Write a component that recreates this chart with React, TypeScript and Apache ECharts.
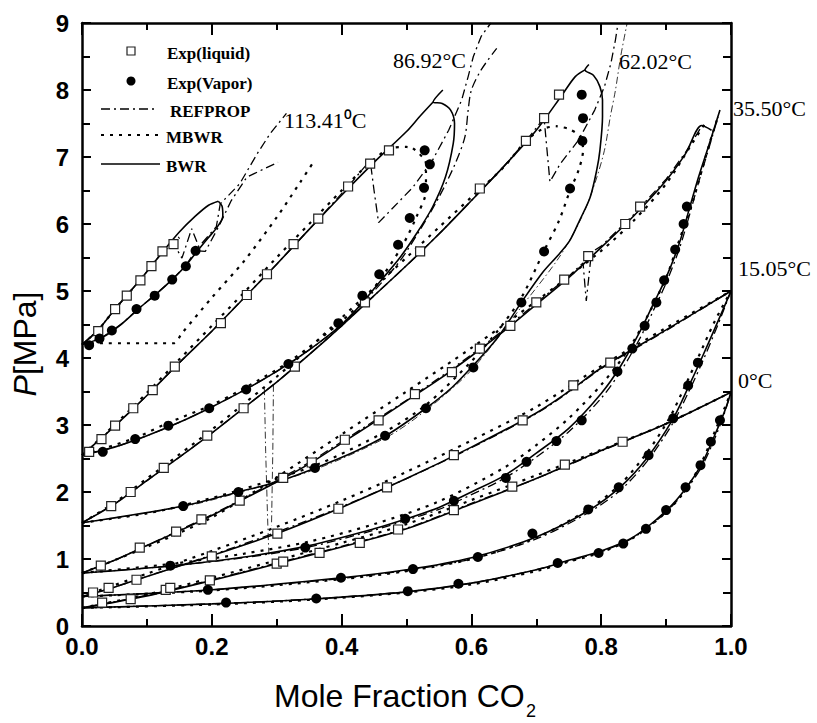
import React, { useEffect, useRef } from "react";
import * as echarts from "echarts";

type P = [number, number];

// ---------- legend / labels ----------
const legendLabels = ["Exp(liquid)", "Exp(Vapor)", "REFPROP", "MBWR", "BWR"];
const tempLabels = ["113.41\u2070C", "86.92\u00b0C", "62.02\u00b0C", "35.50\u00b0C", "15.05\u00b0C", "0\u00b0C"];

// ---------- experimental data ----------
const T0_liq: P[] = [[0.031,0.35],[0.075,0.40],[0.129,0.54],[0.136,0.57],[0.197,0.68],[0.300,0.93],[0.310,0.96],[0.366,1.09],[0.428,1.24],[0.487,1.44],[0.573,1.73],[0.663,2.08],[0.744,2.41],[0.833,2.75]];
const T0_vap: P[] = [[0.222,0.35],[0.361,0.41],[0.502,0.52],[0.58,0.63],[0.733,0.94],[0.796,1.09],[0.834,1.23],[0.869,1.45],[0.9,1.73],[0.93,2.07],[0.953,2.40],[0.969,2.75],[0.983,3.07]];
const T15_liq: P[] = [[0.017,0.50],[0.041,0.57],[0.084,0.69],[0.2,1.04],[0.301,1.38],[0.395,1.75],[0.47,2.07],[0.573,2.55],[0.679,3.07],[0.757,3.59],[0.814,3.93]];
const T15_vap: P[] = [[0.194,0.54],[0.399,0.72],[0.51,0.85],[0.61,1.03],[0.694,1.38],[0.78,1.74],[0.827,2.07],[0.873,2.55],[0.911,3.1],[0.934,3.59],[0.949,3.93]];
const T35_liq: P[] = [[0.029,0.90],[0.089,1.17],[0.145,1.41],[0.184,1.59],[0.243,1.87],[0.31,2.21],[0.354,2.44],[0.405,2.78],[0.457,3.07],[0.513,3.46],[0.57,3.79],[0.613,4.14],[0.66,4.48],[0.70,4.83],[0.743,5.17],[0.78,5.52],[0.837,6.0],[0.86,6.26]];
const T35_vap: P[] = [[0.136,0.90],[0.344,1.17],[0.498,1.60],[0.573,1.87],[0.653,2.21],[0.685,2.45],[0.731,2.76],[0.77,3.07],[0.825,3.80],[0.848,4.14],[0.867,4.48],[0.885,4.83],[0.897,5.16],[0.914,5.62],[0.927,6.0],[0.932,6.26]];
const T62_liq: P[] = [[0.045,1.79],[0.075,2.0],[0.126,2.36],[0.193,2.84],[0.249,3.25],[0.328,3.87],[0.436,4.83],[0.521,5.59],[0.613,6.53],[0.684,7.24],[0.712,7.58],[0.735,7.93]];
const T62_vap: P[] = [[0.156,1.79],[0.241,2.0],[0.359,2.36],[0.467,2.84],[0.53,3.25],[0.603,3.86],[0.677,4.83],[0.712,5.59],[0.752,6.53],[0.771,7.24],[0.772,7.58],[0.77,7.93]];
const T87_liq: P[] = [[0.011,2.60],[0.03,2.79],[0.051,2.99],[0.079,3.25],[0.109,3.52],[0.143,3.87],[0.214,4.52],[0.254,4.94],[0.285,5.25],[0.326,5.70],[0.364,6.08],[0.41,6.56],[0.444,6.9],[0.473,7.10]];
const T87_vap: P[] = [[0.032,2.60],[0.082,2.79],[0.133,2.99],[0.196,3.25],[0.253,3.53],[0.318,3.91],[0.395,4.52],[0.432,4.93],[0.458,5.25],[0.487,5.69],[0.505,6.09],[0.527,6.54],[0.536,6.89],[0.528,7.10]];
const T113_liq: P[] = [[0.025,4.40],[0.051,4.73],[0.069,4.93],[0.090,5.16],[0.107,5.37],[0.124,5.59],[0.141,5.70]];
const T113_vap: P[] = [[0.011,4.19],[0.027,4.29],[0.046,4.41],[0.084,4.73],[0.112,4.93],[0.139,5.17],[0.16,5.37],[0.175,5.60]];

// ---------- BWR (solid) ----------
const BWR_0_bub: P[] = [[0,0.27],[0.1,0.45],[0.2,0.68],[0.3,0.93],[0.4,1.18],[0.5,1.45],[0.6,1.82],[0.7,2.2],[0.8,2.62],[0.9,3.02],[1.0,3.49]];
const BWR_0_dew: P[] = [[0,0.27],[0.2,0.33],[0.35,0.40],[0.5,0.51],[0.6,0.64],[0.7,0.84],[0.75,0.98],[0.8,1.12],[0.85,1.33],[0.9,1.72],[0.93,2.05],[0.955,2.42],[0.975,2.85],[0.99,3.2],[1.0,3.49]];
const BWR_15_bub: P[] = [[0,0.44],[0.05,0.58],[0.1,0.74],[0.2,1.05],[0.3,1.38],[0.4,1.77],[0.5,2.2],[0.6,2.67],[0.7,3.18],[0.75,3.5],[0.8,3.85],[0.9,4.42],[1.0,5.0]];
const BWR_15_dew: P[] = [[0,0.44],[0.2,0.54],[0.4,0.72],[0.5,0.84],[0.6,1.02],[0.7,1.33],[0.78,1.72],[0.83,2.08],[0.87,2.5],[0.91,3.08],[0.935,3.58],[0.955,4.0],[0.98,4.55],[1.0,5.0]];
const BWR_35_bub: P[] = [[0,0.79],[0.05,0.98],[0.1,1.2],[0.15,1.42],[0.2,1.65],[0.25,1.9],[0.3,2.15],[0.35,2.42],[0.4,2.73],[0.45,3.04],[0.5,3.36],[0.55,3.68],[0.6,4.03],[0.65,4.4],[0.7,4.8],[0.75,5.2],[0.8,5.65],[0.85,6.12],[0.9,6.65],[0.93,7.05],[0.955,7.47],[0.97,7.4]];
const BWR_35_dew: P[] = [[0,0.79],[0.14,0.90],[0.25,1.03],[0.35,1.2],[0.45,1.45],[0.5,1.6],[0.55,1.77],[0.6,2.0],[0.65,2.24],[0.7,2.58],[0.75,2.95],[0.8,3.47],[0.83,3.88],[0.86,4.4],[0.88,4.8],[0.9,5.2],[0.92,5.7],[0.935,6.2],[0.95,6.7],[0.965,7.15],[0.983,7.7]];
const BWR_62_bub: P[] = [[0,1.54],[0.05,1.82],[0.1,2.17],[0.15,2.52],[0.2,2.88],[0.25,3.26],[0.3,3.64],[0.35,4.05],[0.4,4.48],[0.45,4.93],[0.5,5.38],[0.55,5.85],[0.6,6.35],[0.65,6.86],[0.7,7.4],[0.74,7.93],[0.76,8.2],[0.775,8.3]];
const BWR_62_dew: P[] = [[0,1.54],[0.156,1.79],[0.241,2.0],[0.3,2.15],[0.36,2.36],[0.42,2.6],[0.47,2.85],[0.53,3.25],[0.57,3.56],[0.6,3.86],[0.64,4.3],[0.677,4.83],[0.71,5.28],[0.735,5.55],[0.752,5.76],[0.767,6.06],[0.783,6.4],[0.793,6.8],[0.798,7.1],[0.802,7.6],[0.802,7.85],[0.798,8.05],[0.788,8.22],[0.775,8.3],[0.781,8.38]];
const BWR_87_bub: P[] = [[0,2.55],[0.05,2.98],[0.1,3.44],[0.15,3.93],[0.2,4.4],[0.25,4.9],[0.3,5.4],[0.35,5.92],[0.4,6.43],[0.45,6.92],[0.5,7.38],[0.52,7.6],[0.541,7.82]];
const BWR_87_dew: P[] = [[0,2.55],[0.05,2.67],[0.1,2.84],[0.15,3.04],[0.2,3.27],[0.25,3.52],[0.3,3.8],[0.35,4.12],[0.4,4.5],[0.43,4.8],[0.46,5.15],[0.49,5.5],[0.515,5.85],[0.54,6.25],[0.56,6.7],[0.572,7.2],[0.574,7.5],[0.568,7.7],[0.555,7.8],[0.541,7.82],[0.556,8.0]];
const BWR_113_bub: P[] = [[0,4.2],[0.025,4.42],[0.05,4.72],[0.09,5.17],[0.124,5.58],[0.15,5.88],[0.175,6.12],[0.195,6.28],[0.21,6.34]];
const BWR_113_dew: P[] = [[0,4.2],[0.03,4.3],[0.06,4.5],[0.09,4.76],[0.115,4.96],[0.14,5.18],[0.16,5.38],[0.178,5.6],[0.195,5.8],[0.208,5.95],[0.217,6.12],[0.216,6.26],[0.21,6.34]];

// ---------- MBWR (dotted) ----------
const MBWR_0_bub: P[] = [[0,0.27],[0.1,0.47],[0.2,0.72],[0.3,0.98],[0.4,1.24],[0.5,1.52],[0.6,1.88],[0.7,2.25],[0.8,2.63],[0.9,3.02],[1.0,3.49]];
const MBWR_0_dew: P[] = [[0,0.27],[0.2,0.32],[0.35,0.39],[0.5,0.5],[0.6,0.62],[0.7,0.82],[0.75,0.96],[0.8,1.1],[0.85,1.32],[0.9,1.7],[0.93,2.03],[0.955,2.45],[0.975,2.9],[0.99,3.25],[1.0,3.49]];
const MBWR_15_bub: P[] = [[0,0.44],[0.1,0.78],[0.2,1.12],[0.3,1.48],[0.4,1.87],[0.5,2.3],[0.6,2.77],[0.7,3.27],[0.8,3.88],[0.9,4.45],[1.0,5.0]];
const MBWR_15_dew: P[] = [[0,0.44],[0.2,0.53],[0.4,0.7],[0.5,0.82],[0.6,1.0],[0.7,1.32],[0.78,1.74],[0.83,2.12],[0.87,2.58],[0.905,3.1],[0.93,3.6],[0.95,4.02],[0.975,4.55],[1.0,5.0]];
const MBWR_35_bub: P[] = [[0,0.79],[0.1,1.18],[0.2,1.62],[0.3,2.22],[0.4,2.86],[0.5,3.5],[0.6,4.15],[0.7,4.85],[0.8,5.6],[0.85,6.05],[0.9,6.6],[0.94,7.2],[0.96,7.5]];
const MBWR_35_dew: P[] = [[0,0.79],[0.14,0.93],[0.25,1.08],[0.35,1.26],[0.45,1.52],[0.55,1.86],[0.65,2.36],[0.7,2.7],[0.75,3.1],[0.8,3.6],[0.84,4.1],[0.87,4.6],[0.9,5.2],[0.92,5.75],[0.94,6.3],[0.955,6.8],[0.97,7.3],[0.98,7.6]];
const MBWR_62_bub: P[] = [[0,1.54],[0.05,1.84],[0.1,2.2],[0.15,2.56],[0.2,2.93],[0.25,3.32],[0.3,3.72],[0.35,4.15],[0.4,4.6],[0.45,5.05],[0.5,5.5],[0.55,5.95],[0.6,6.4],[0.65,6.85],[0.685,7.25],[0.71,7.42],[0.73,7.46]];
const MBWR_62_dew: P[] = [[0,1.54],[0.1,1.68],[0.156,1.8],[0.24,2.02],[0.36,2.4],[0.467,2.9],[0.53,3.3],[0.6,3.95],[0.64,4.4],[0.677,4.9],[0.712,5.6],[0.735,6.05],[0.752,6.5],[0.765,6.8],[0.772,7.1],[0.768,7.3],[0.75,7.42],[0.73,7.46]];
const MBWR_87_bub: P[] = [[0,2.55],[0.05,3.0],[0.1,3.48],[0.15,3.98],[0.2,4.48],[0.25,4.98],[0.3,5.5],[0.35,6.0],[0.4,6.5],[0.44,6.88],[0.473,7.12],[0.5,7.15],[0.51,7.13]];
const MBWR_87_dew: P[] = [[0.51,7.13],[0.53,6.9],[0.53,6.5],[0.515,6.1],[0.495,5.7],[0.465,5.25],[0.44,4.93],[0.4,4.55],[0.32,3.95],[0.25,3.55],[0.2,3.3],[0.13,3.02],[0.08,2.8],[0,2.55]];
const MBWR_113_bub: P[] = [[0,4.2],[0.025,4.42],[0.05,4.72],[0.09,5.17],[0.124,5.58],[0.15,5.8]];
const MBWR_113_dew: P[] = [[0,4.22],[0.141,4.22],[0.154,4.37],[0.2,4.9],[0.25,5.45],[0.3,6.1],[0.336,6.62],[0.359,6.96]];

// ---------- REFPROP (dash-dot) ----------
const REF_0_bub: P[] = [[0,0.27],[0.1,0.46],[0.2,0.69],[0.3,0.94],[0.4,1.19],[0.5,1.46],[0.6,1.83],[0.7,2.2],[0.8,2.61],[0.9,3.02],[1.0,3.49]];
const REF_0_dew: P[] = [[0,0.27],[0.2,0.33],[0.35,0.40],[0.5,0.51],[0.6,0.64],[0.7,0.84],[0.75,0.97],[0.8,1.11],[0.85,1.32],[0.9,1.7],[0.93,2.02],[0.955,2.38],[0.975,2.8],[0.99,3.18],[1.0,3.49]];
const REF_15_bub: P[] = [[0,0.44],[0.05,0.58],[0.1,0.74],[0.2,1.06],[0.3,1.4],[0.4,1.78],[0.5,2.2],[0.6,2.66],[0.7,3.17],[0.75,3.49],[0.8,3.84],[0.9,4.41],[1.0,5.0]];
const REF_15_dew: P[] = [[0,0.44],[0.2,0.54],[0.4,0.71],[0.5,0.83],[0.6,1.0],[0.7,1.3],[0.78,1.69],[0.83,2.03],[0.87,2.45],[0.91,3.02],[0.935,3.5],[0.955,3.92],[0.98,4.5],[1.0,5.0]];
const REF_35_bub: P[] = [[0,0.79],[0.05,0.98],[0.1,1.2],[0.15,1.43],[0.2,1.66],[0.25,1.91],[0.3,2.17],[0.35,2.44],[0.4,2.75],[0.45,3.06],[0.5,3.37],[0.55,3.7],[0.6,4.05],[0.65,4.42],[0.7,4.82],[0.75,5.22],[0.772,5.42],[0.777,4.85],[0.785,5.58],[0.8,5.67],[0.85,6.14],[0.9,6.67],[0.93,7.07],[0.955,7.46]];
const REF_35_dew: P[] = [[0,0.79],[0.14,0.9],[0.25,1.02],[0.35,1.18],[0.45,1.43],[0.5,1.58],[0.55,1.74],[0.6,1.96],[0.65,2.2],[0.7,2.52],[0.75,2.9],[0.8,3.4],[0.83,3.8],[0.86,4.3],[0.88,4.7],[0.9,5.12],[0.92,5.62],[0.935,6.1],[0.95,6.62],[0.965,7.1],[0.98,7.6]];
const REF_62_bub: P[] = [[0,1.54],[0.05,1.82],[0.1,2.17],[0.15,2.52],[0.2,2.88],[0.25,3.26],[0.3,3.64],[0.35,4.05],[0.4,4.48],[0.45,4.93],[0.5,5.38],[0.55,5.85],[0.6,6.35],[0.65,6.86],[0.684,7.24],[0.712,7.58],[0.721,6.63],[0.737,6.9],[0.765,7.25],[0.79,7.7],[0.805,8.05],[0.815,8.4],[0.822,8.75],[0.826,9.0]];
const REF_62_dew: P[] = [[0,1.54],[0.156,1.78],[0.241,1.99],[0.36,2.34],[0.47,2.82],[0.53,3.22],[0.6,3.82],[0.68,4.8],[0.735,5.5],[0.77,6.1],[0.79,6.6],[0.805,7.1],[0.814,7.6],[0.822,8.0],[0.83,8.5],[0.84,9.0]];
const REF_62_spikeA: P[] = [[0.281,3.55],[0.283,2.6],[0.286,1.6],[0.288,1.05]];
const REF_62_spikeB: P[] = [[0.295,3.6],[0.294,2.6],[0.292,1.5]];
const REF_87_bub: P[] = [[0,2.55],[0.05,2.98],[0.1,3.44],[0.15,3.93],[0.2,4.4],[0.25,4.9],[0.3,5.4],[0.35,5.92],[0.41,6.56],[0.444,6.95],[0.45,6.5],[0.457,6.02],[0.48,6.25],[0.51,6.55],[0.54,6.95],[0.565,7.4],[0.585,7.85],[0.595,8.2],[0.603,8.5],[0.615,8.8],[0.63,9.0]];
const REF_87_dew: P[] = [[0,2.55],[0.05,2.67],[0.1,2.84],[0.15,3.04],[0.2,3.27],[0.25,3.52],[0.3,3.8],[0.35,4.12],[0.4,4.5],[0.45,5.0],[0.49,5.45],[0.52,5.9],[0.55,6.4],[0.575,6.9],[0.59,7.3],[0.595,7.7],[0.6,8.0],[0.615,8.3],[0.639,8.62]];
const REF_113_bub: P[] = [[0,4.2],[0.025,4.42],[0.05,4.72],[0.09,5.17],[0.124,5.58],[0.141,5.71],[0.154,5.49],[0.169,5.93],[0.18,5.66],[0.207,5.96],[0.213,6.3],[0.243,6.6],[0.27,7.05],[0.29,7.35],[0.315,7.65]];
const REF_113_dew: P[] = [[0,4.2],[0.03,4.3],[0.06,4.5],[0.09,4.76],[0.115,4.96],[0.14,5.18],[0.16,5.38],[0.175,5.6],[0.19,5.59],[0.21,5.95],[0.23,6.35],[0.254,6.7],[0.28,6.82],[0.302,6.92]];

const SOLID = { color: "#000", width: 1.6, type: "solid" as const };
const DOT = { color: "#000", width: 2.2, type: [3, 6] as number[] };
const DASHDOT = { color: "#000", width: 1.3, type: [9, 4, 2, 4] as number[] };
const THIN = { color: "#000", width: 0.8, type: [7, 3, 1.5, 3] as number[] };

function line(data: P[], style: any, smooth: number | boolean) {
  return {
    type: "line",
    data,
    symbol: "none",
    smooth,
    lineStyle: style,
    z: 2,
    silent: true,
  };
}

export default function App() {
  const ref = useRef<HTMLDivElement>(null);
  useEffect(() => {
    document.body.style.margin = "0";
    const chart = echarts.init(ref.current!, null, { renderer: "svg" });

    const bwr = [BWR_0_bub, BWR_0_dew, BWR_15_bub, BWR_15_dew, BWR_35_bub, BWR_35_dew, BWR_62_bub, BWR_62_dew, BWR_87_bub, BWR_87_dew, BWR_113_bub, BWR_113_dew];
    const mbwr = [MBWR_0_bub, MBWR_0_dew, MBWR_15_bub, MBWR_15_dew, MBWR_35_bub, MBWR_35_dew, MBWR_62_bub, MBWR_62_dew, MBWR_87_bub, MBWR_87_dew, MBWR_113_bub, MBWR_113_dew];
    const refSmooth = [REF_0_bub, REF_0_dew, REF_15_bub, REF_15_dew, REF_35_dew, REF_87_dew];
    const refSharp = [REF_35_bub, REF_62_bub, REF_87_bub, REF_113_bub, REF_113_dew];
    const liq = [T0_liq, T15_liq, T35_liq, T62_liq, T87_liq, T113_liq];
    const vap = [T0_vap, T15_vap, T35_vap, T62_vap, T87_vap, T113_vap];

    const series: any[] = [];
    bwr.forEach((d) => series.push(line(d, SOLID, 0.3)));
    mbwr.forEach((d) => series.push(line(d, DOT, 0.3)));
    refSmooth.forEach((d) => series.push(line(d, DASHDOT, 0.3)));
    refSharp.forEach((d) => series.push(line(d, DASHDOT, false)));
    series.push(line(REF_62_dew, THIN, 0.3));
    series.push(line(REF_62_spikeA, THIN, false));
    series.push(line(REF_62_spikeB, THIN, false));
    liq.forEach((d) =>
      series.push({
        type: "scatter",
        data: d,
        symbol: "rect",
        symbolSize: 9,
        itemStyle: { color: "#fff", borderColor: "#222", borderWidth: 1.2, opacity: 1 },
        z: 5,
        silent: true,
      })
    );
    vap.forEach((d) =>
      series.push({
        type: "scatter",
        data: d,
        symbol: "circle",
        symbolSize: 10,
        itemStyle: { color: "#000", opacity: 1 },
        z: 6,
        silent: true,
      })
    );

    const axisLine = { show: true, onZero: false, lineStyle: { color: "#000", width: 2.5 } };
    const tickLabel = { fontFamily: "Liberation Sans, Arial, sans-serif", fontWeight: "bold", fontSize: 24, color: "#000" };

    const serifFont = "Liberation Serif, Times New Roman, serif";
    const legendY = [51, 81, 109, 135, 164];
    const tempPos: [number, number][] = [[284, 120], [393, 60], [619, 61], [733, 108], [738, 268], [738, 380]];

    const graphic: any[] = [
      { type: "rect", shape: { x: 127, y: legendY[0] - 4, width: 8, height: 8 }, style: { fill: "#fff", stroke: "#222", lineWidth: 1.2 } },
      { type: "circle", shape: { cx: 131, cy: legendY[1], r: 4.5 }, style: { fill: "#000" } },
      { type: "line", shape: { x1: 101, y1: legendY[2], x2: 158, y2: legendY[2] }, style: { stroke: "#000", lineWidth: 1.3, lineDash: [9, 4, 2, 4] } },
      { type: "line", shape: { x1: 101, y1: legendY[3], x2: 160, y2: legendY[3] }, style: { stroke: "#000", lineWidth: 2.2, lineDash: [3, 6] } },
      { type: "line", shape: { x1: 101, y1: legendY[4], x2: 160, y2: legendY[4] }, style: { stroke: "#000", lineWidth: 1.6 } },
    ];
    const legendTextX = [167, 167, 170, 166, 166];
    legendLabels.forEach((t, i) =>
      graphic.push({
        type: "text",
        x: legendTextX[i],
        y: legendY[i] + 2,
        style: { text: t, fontFamily: serifFont, fontWeight: "bold", fontSize: 17, fill: "#000", verticalAlign: "middle", align: "left" },
      })
    );
    tempLabels.forEach((t, i) =>
      graphic.push({
        type: "text",
        x: tempPos[i][0],
        y: tempPos[i][1],
        style: { text: t, fontFamily: serifFont, fontSize: 22, fill: "#000", verticalAlign: "middle", align: "left" },
      })
    );
    graphic.push({
      type: "text",
      x: 274,
      y: 712,
      style: { text: "Mole Fraction CO", fontFamily: "Liberation Sans, Arial, sans-serif", fontSize: 32, fill: "#000", verticalAlign: "bottom", align: "left" },
    });
    graphic.push({
      type: "text",
      x: 526,
      y: 702,
      style: { text: "2", fontFamily: "Liberation Sans, Arial, sans-serif", fontSize: 18, fill: "#000", verticalAlign: "top", align: "left" },
    });
    graphic.push({
      type: "text",
      x: 25,
      y: 344,
      rotation: Math.PI / 2,
      style: {
        text: "{i|P}{n|[MPa]}",
        fill: "#000",
        align: "center",
        verticalAlign: "middle",
        rich: {
          i: { fontFamily: "Liberation Sans, Arial, sans-serif", fontStyle: "italic", fontSize: 32, fill: "#000" },
          n: { fontFamily: "Liberation Sans, Arial, sans-serif", fontSize: 32, fill: "#000" },
        },
      },
    });

    chart.setOption({
      animation: false,
      backgroundColor: "#fff",
      grid: { left: 82, right: 86, top: 23, bottom: 97, containLabel: false },
      xAxis: [
        {
          type: "value", min: 0, max: 1, interval: 0.2, position: "bottom",
          axisLine, splitLine: { show: false },
          axisTick: { show: true, inside: true, length: 12, lineStyle: { color: "#000", width: 2 } },
          minorTick: { show: true, splitNumber: 2, length: 7, lineStyle: { color: "#000", width: 2 } },
          axisLabel: { ...tickLabel, margin: 8, formatter: (v: number) => v.toFixed(1) },
        },
        {
          type: "value", min: 0, max: 1, interval: 0.2, position: "top",
          axisLine, splitLine: { show: false },
          axisTick: { show: true, inside: true, length: 12, lineStyle: { color: "#000", width: 2 } },
          minorTick: { show: true, splitNumber: 2, length: 7, lineStyle: { color: "#000", width: 2 } },
          axisLabel: { show: false },
        },
      ],
      yAxis: [
        {
          type: "value", min: 0, max: 9, interval: 1, position: "left",
          axisLine, splitLine: { show: false },
          axisTick: { show: true, inside: true, length: 9, lineStyle: { color: "#000", width: 2 } },
          minorTick: { show: true, splitNumber: 2, length: 8, lineStyle: { color: "#000", width: 2 } },
          axisLabel: { ...tickLabel, margin: 13 },
        },
        {
          type: "value", min: 0, max: 9, interval: 1, position: "right",
          axisLine, splitLine: { show: false },
          axisTick: { show: true, inside: true, length: 9, lineStyle: { color: "#000", width: 2 } },
          minorTick: { show: true, splitNumber: 2, length: 8, lineStyle: { color: "#000", width: 2 } },
          axisLabel: { show: false },
        },
      ],
      series,
      graphic,
    });
    return () => chart.dispose();
  }, []);
  return <div ref={ref} style={{ width: 817, height: 723 }} />;
}
